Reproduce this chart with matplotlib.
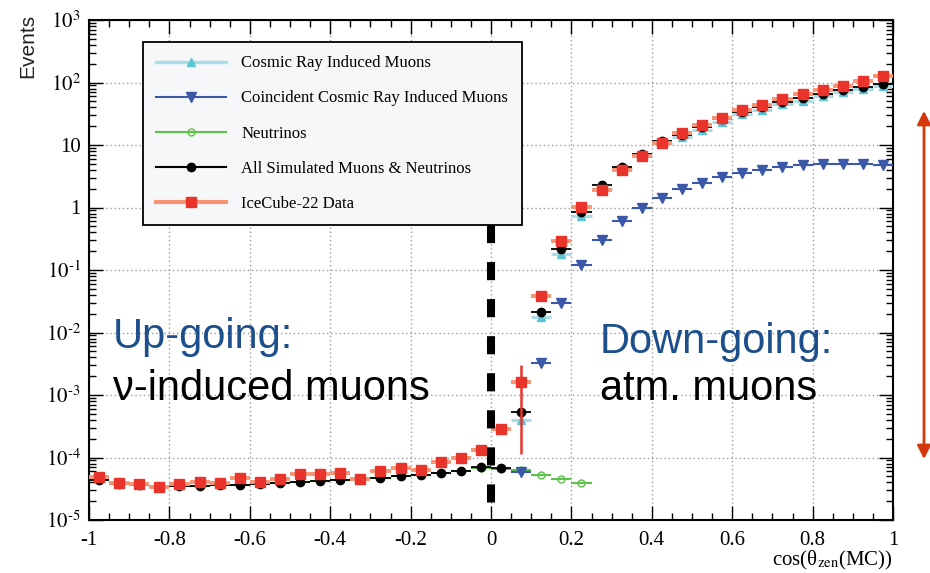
import numpy as np
import matplotlib.pyplot as plt
from matplotlib.lines import Line2D
from matplotlib.ticker import FixedLocator, FixedFormatter, LogLocator, NullFormatter

plt.rcParams['axes.unicode_minus'] = False
plt.rcParams['mathtext.fontset'] = 'stix'

# bin centres of cos(theta_zen), 40 bins of width 0.05
centers = np.arange(-0.975, 1.0, 0.05)
half_width = 0.025

# All Simulated Muons & Neutrinos (all 40 bins)
all_sim = [4.4e-5, 3.8e-5, 3.6e-5, 3.4e-5, 3.5e-5, 3.5e-5, 3.6e-5, 3.65e-5, 3.75e-5, 3.85e-5,
           4.0e-5, 4.25e-5, 4.4e-5, 4.55e-5, 4.65e-5, 5.05e-5, 5.25e-5, 5.6e-5, 6.15e-5, 7.0e-5,
           6.7e-5, 5.3e-4, 0.0215, 0.217, 0.86, 2.3, 4.5, 7.2, 11.7, 14.5,
           19.2, 25.8, 34.0, 40.0, 49.0, 56.0, 65.5, 76.0, 84.0, 95.0]

# IceCube-22 data (all 40 bins)
data = [4.9e-5, 3.95e-5, 3.8e-5, 3.4e-5, 3.7e-5, 4.0e-5, 3.95e-5, 4.7e-5, 4.0e-5, 4.5e-5,
        5.4e-5, 5.4e-5, 5.7e-5, 4.5e-5, 6.0e-5, 6.7e-5, 6.3e-5, 8.4e-5, 1.0e-4, 1.3e-4,
        2.9e-4, 1.6e-3, 0.038, 0.29, 1.03, 1.9, 4.0, 6.7, 10.6, 15.4,
        21.0, 27.0, 36.0, 44.0, 54.0, 65.0, 76.0, 88.0, 106.0, 127.0]
# the one large data error bar (bin 0.075)
data_err_bin = 0.075
data_err_lo = 1.15e-4
data_err_hi = 3.0e-3

# Cosmic Ray Induced Muons, bins 0.075 .. 0.975
cosmic = [4.0e-4, 0.018, 0.178, 0.74, 2.0, 4.2, 6.6, 10.8, 13.5, 17.5,
          23.0, 31.0, 36.5, 45.0, 51.0, 60.0, 70.0, 78.0, 89.0]

# Coincident Cosmic Ray Induced Muons, bins 0.075 .. 0.975
coincident = [5.9e-5, 3.25e-3, 0.030, 0.12, 0.30, 0.61, 0.97, 1.44, 1.95, 2.44,
              3.1, 3.5, 4.0, 4.4, 4.8, 4.9, 4.95, 4.95, 4.7]

# Neutrinos, bins -0.975 .. 0.225
neutrinos = [4.4e-5, 3.8e-5, 3.6e-5, 3.4e-5, 3.5e-5, 3.5e-5, 3.6e-5, 3.65e-5, 3.75e-5, 3.85e-5,
             4.0e-5, 4.25e-5, 4.4e-5, 4.55e-5, 4.65e-5, 5.05e-5, 5.25e-5, 5.6e-5, 6.15e-5, 6.9e-5,
             6.6e-5, 6.3e-5, 5.25e-5, 4.5e-5, 3.95e-5]

x_ticks = [-1, -0.8, -0.6, -0.4, -0.2, 0, 0.2, 0.4, 0.6, 0.8, 1]
x_tick_labels = ['-1', '-0.8', '-0.6', '-0.4', '-0.2', '0', '0.2', '0.4', '0.6', '0.8', '1']
y_ticks = [1e-5, 1e-4, 1e-3, 1e-2, 1e-1, 1, 10, 1e2, 1e3]
y_tick_labels = ['$10^{\u20105}$', '$10^{\u20104}$', '$10^{\u20103}$', '$10^{\u20102}$',
                 '$10^{\u20101}$', '1', '10', '$10^{2}$', '$10^{3}$']

c_cyan_line, c_cyan = '#a9dde8', '#5fc3d5'
c_blue = '#3b58a9'
c_green = '#5cc24a'
c_red_line, c_red = '#f79474', '#e8342a'

fig = plt.figure(figsize=(9.3, 5.73), dpi=100)
ax = fig.add_axes([89 / 930, 53 / 573, 804 / 930, 500 / 573])
ax.set_yscale('log')
ax.set_xlim(-1, 1)
ax.set_ylim(1e-5, 1e3)

n_pos = len(cosmic)
x_pos = centers[-n_pos:]
x_nu = centers[:len(neutrinos)]

ax.errorbar(x_pos, cosmic, xerr=half_width, fmt='^', color=c_cyan, ms=6,
            ecolor=c_cyan_line, elinewidth=2.2, capsize=0, zorder=3)
ax.errorbar(x_nu, neutrinos, xerr=half_width, fmt='o', mfc='none', mec=c_green, ms=5,
            ecolor=c_green, elinewidth=1.5, capsize=0, zorder=3)
ax.errorbar(x_pos, coincident, xerr=half_width, fmt='v', color=c_blue, ms=7,
            ecolor=c_blue, elinewidth=1.5, capsize=0, zorder=4)
ax.errorbar(centers, all_sim, xerr=half_width, fmt='o', color='black', ms=6,
            ecolor='black', elinewidth=1.3, capsize=0, zorder=5)
ax.vlines(data_err_bin, data_err_lo, data_err_hi, color=c_red, lw=1.8, zorder=6)
ax.errorbar(centers, data, xerr=half_width, fmt='s', color=c_red, ms=7,
            ecolor=c_red_line, elinewidth=2.8, capsize=0, zorder=6)

# horizon: dashed line at cos = 0
ax.plot([0, 0], [0.52, 1e-5], color='black', lw=5.8, dashes=(2.25, 2.35),
        solid_capstyle='butt', dash_capstyle='butt', zorder=7)

# axes styling, ROOT-like
ax.xaxis.set_major_locator(FixedLocator(x_ticks))
ax.xaxis.set_major_formatter(FixedFormatter(x_tick_labels))
ax.xaxis.set_minor_locator(FixedLocator(np.arange(-1, 1.001, 0.05)))
ax.yaxis.set_major_locator(FixedLocator(y_ticks))
ax.yaxis.set_major_formatter(FixedFormatter(y_tick_labels))
ax.yaxis.set_minor_locator(LogLocator(base=10, subs=np.arange(2, 10), numticks=20))
ax.yaxis.set_minor_formatter(NullFormatter())
ax.tick_params(which='both', direction='in', top=True, right=True, width=1)
ax.tick_params(which='major', length=10)
ax.tick_params(which='minor', length=5)
for lab in ax.get_xticklabels() + ax.get_yticklabels():
    lab.set_family('Liberation Serif')
    lab.set_fontsize(15)
ax.tick_params(axis='x', pad=8)
ax.tick_params(axis='y', pad=6)
for s in ax.spines.values():
    s.set_linewidth(1.5)
ax.grid(True, which='major', color='#9a9a9a', linestyle=(0, (1, 2)), linewidth=1)
ax.set_axisbelow(True)

fig.text(28 / 930, 1 - 14 / 573, 'Events', rotation=90, ha='center', va='top',
         fontsize=15, family='Liberation Sans', color='#222222')
fig.text(893 / 930, 1 - 560 / 573, 'cos(θ$_{\\rm zen}$(MC))', ha='right', va='center',
         fontsize=15, family='Liberation Serif')

# region labels
txt_blue = '#1d4f8c'
ax.text(-0.94, 5.65e-3, 'Up-going:', color=txt_blue, fontsize=30, family='Liberation Sans',
        va='baseline', zorder=8)
ax.text(-0.94, 8.3e-4, 'ν-induced muons', color='black', fontsize=30,
        family='Liberation Sans', va='baseline', zorder=8)
ax.text(0.271, 4.7e-3, 'Down-going:', color=txt_blue, fontsize=30, family='Liberation Sans',
        va='baseline', zorder=8)
ax.text(0.271, 8.3e-4, 'atm. muons', color='black', fontsize=30, family='Liberation Sans',
        va='baseline', zorder=8)

# legend
handles = [
    Line2D([], [], color=c_cyan_line, lw=2.5, marker='^', mfc=c_cyan, mec=c_cyan, ms=6),
    Line2D([], [], color=c_blue, lw=1.5, marker='v', mfc=c_blue, mec=c_blue, ms=7),
    Line2D([], [], color=c_green, lw=1.5, marker='o', mfc='none', mec=c_green, ms=5),
    Line2D([], [], color='black', lw=1.5, marker='o', mfc='black', mec='black', ms=6),
    Line2D([], [], color=c_red_line, lw=3, marker='s', mfc=c_red, mec=c_red, ms=7),
]
labels = ['Cosmic Ray Induced Muons', 'Coincident Cosmic Ray Induced Muons', 'Neutrinos',
          'All Simulated Muons & Neutrinos', 'IceCube-22 Data']
leg = ax.legend(handles, labels, loc='upper left', bbox_to_anchor=(54 / 804, 478 / 500),
                borderaxespad=0, prop={'family': 'Liberation Serif', 'size': 12},
                handlelength=4.2, handletextpad=0.9, labelspacing=1.15, borderpad=0.8,
                fancybox=False, framealpha=1, facecolor='#f6f7f9', edgecolor='black')
leg.get_frame().set_linewidth(1.3)
leg.set_zorder(10)

# double arrow on the right
ax.annotate('', xy=(924, 573 - 108), xycoords='figure pixels',
            xytext=(924, 573 - 462), textcoords='figure pixels',
            arrowprops=dict(arrowstyle='<|-|>', color='#d4390e', lw=2, mutation_scale=20),
            annotation_clip=False)

fig.savefig('out.png', dpi=100)
